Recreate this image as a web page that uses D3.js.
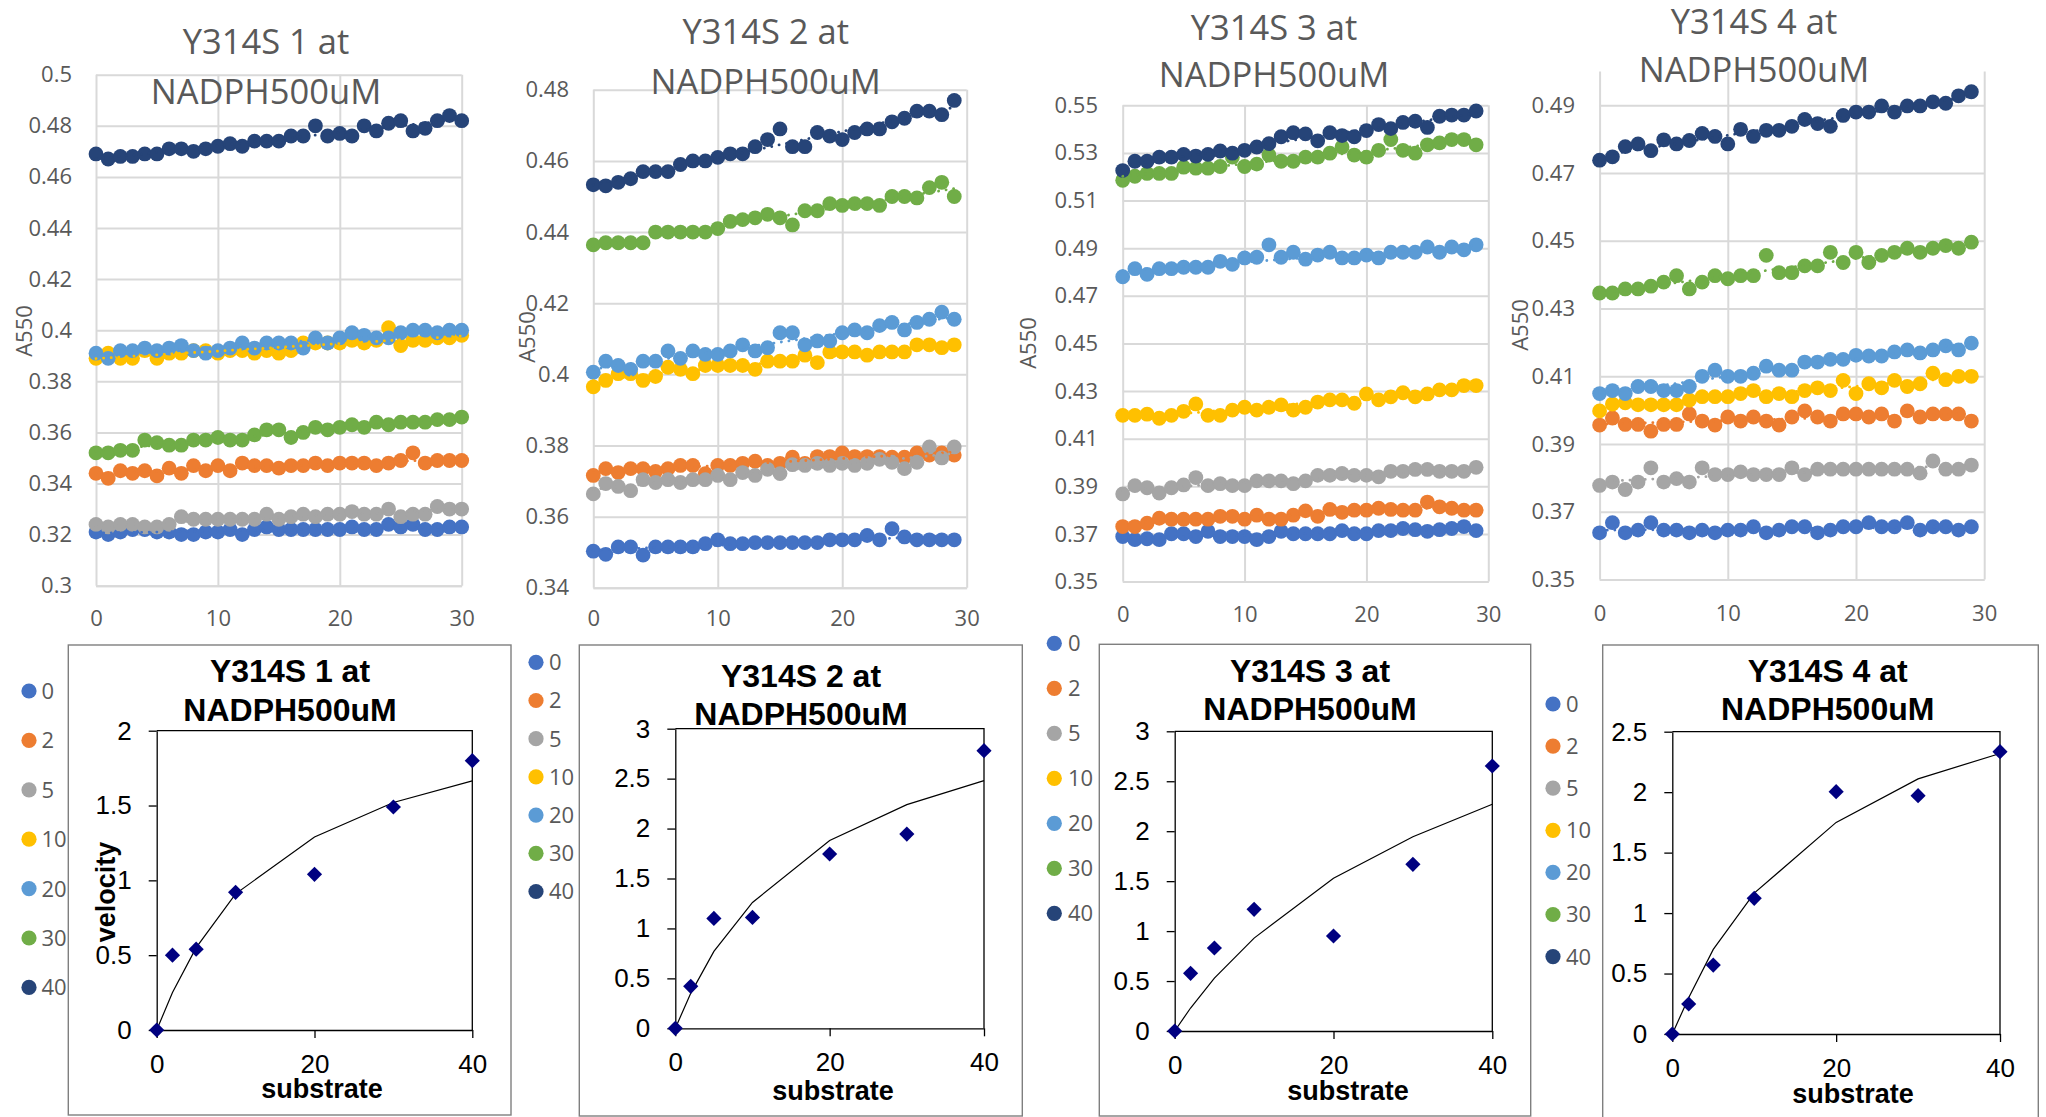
<!DOCTYPE html>
<html><head><meta charset="utf-8">
<script src="https://cdn.jsdelivr.net/npm/d3@7"></script>
<style>body{margin:0;background:#fff;} svg{display:block;}</style>
</head><body>
<svg id="c" width="2046" height="1117"></svg>
<script>
// ---------- DATA ----------
const seriesNames = ["0","2","5","10","20","30","40"];
const seriesColors = ["#4472C4","#ED7D31","#A5A5A5","#FFC000","#5B9BD5","#70AD47","#264478"];

const r1_0 = [0.321,0.320,0.321,0.322,0.322,0.321,0.321,0.320,0.320,0.321,0.321,0.322,0.320,0.322,0.323,0.322,0.322,0.322,0.322,0.322,0.322,0.323,0.322,0.322,0.324,0.323,0.324,0.322,0.322,0.323,0.323];
const r1_2 = [0.344,0.342,0.345,0.344,0.345,0.343,0.346,0.344,0.347,0.345,0.347,0.345,0.348,0.347,0.347,0.346,0.347,0.347,0.348,0.347,0.348,0.348,0.348,0.347,0.348,0.349,0.352,0.348,0.349,0.349,0.349];
const r1_5 = [0.324,0.323,0.324,0.324,0.323,0.323,0.324,0.327,0.326,0.326,0.326,0.326,0.326,0.326,0.328,0.326,0.327,0.328,0.327,0.328,0.328,0.329,0.328,0.328,0.330,0.327,0.328,0.328,0.331,0.330,0.330];
const r1_10 = [0.389,0.391,0.389,0.389,0.392,0.389,0.391,0.391,0.392,0.392,0.391,0.392,0.392,0.391,0.392,0.391,0.392,0.395,0.395,0.395,0.395,0.396,0.395,0.396,0.401,0.394,0.396,0.396,0.397,0.397,0.398];
const r1_20 = [0.391,0.389,0.392,0.392,0.393,0.392,0.393,0.394,0.392,0.391,0.392,0.393,0.395,0.393,0.395,0.395,0.395,0.393,0.397,0.395,0.397,0.399,0.398,0.397,0.397,0.399,0.400,0.400,0.399,0.400,0.400];
const r1_30 = [0.352,0.352,0.353,0.353,0.357,0.356,0.355,0.355,0.357,0.357,0.358,0.357,0.357,0.359,0.361,0.361,0.358,0.360,0.362,0.361,0.362,0.363,0.362,0.364,0.363,0.364,0.364,0.364,0.365,0.365,0.366];
const r1_40 = [0.469,0.467,0.468,0.468,0.469,0.469,0.471,0.471,0.470,0.471,0.472,0.473,0.472,0.474,0.474,0.474,0.476,0.476,0.480,0.476,0.477,0.476,0.480,0.478,0.481,0.482,0.478,0.479,0.482,0.484,0.482];

const r2_0 = [0.3503,0.3494,0.3515,0.3515,0.3492,0.3515,0.3515,0.3515,0.3515,0.3524,0.3535,0.3524,0.3524,0.3527,0.3527,0.3527,0.3527,0.3527,0.3527,0.3535,0.3535,0.3535,0.3547,0.3535,0.3566,0.3543,0.3535,0.3535,0.3535,0.3535];
const r2_2 = [0.3716,0.3735,0.3724,0.3735,0.3735,0.3727,0.3735,0.3744,0.3744,0.3721,0.3744,0.3744,0.375,0.3756,0.3744,0.375,0.3767,0.375,0.3769,0.3769,0.3779,0.3769,0.3769,0.3769,0.3767,0.3767,0.3779,0.3773,0.3779,0.3773];
const r2_5 = [0.3664,0.3693,0.3685,0.3673,0.3704,0.3696,0.3704,0.3696,0.3704,0.3704,0.3716,0.3704,0.3724,0.3716,0.3733,0.3721,0.3746,0.3744,0.375,0.3744,0.375,0.3744,0.375,0.3761,0.3753,0.3735,0.3753,0.3796,0.3765,0.3796];
const r2_10 = [0.3965,0.3983,0.4002,0.4002,0.3983,0.3994,0.402,0.4014,0.4002,0.4025,0.4025,0.4025,0.4025,0.4014,0.4037,0.4037,0.4037,0.4054,0.4033,0.4063,0.4063,0.4063,0.4054,0.4063,0.4063,0.4063,0.4083,0.4083,0.4075,0.4083];
const r2_20 = [0.4006,0.4037,0.4025,0.4014,0.4037,0.4037,0.4066,0.4045,0.4066,0.4056,0.4056,0.4066,0.4083,0.4066,0.4075,0.4117,0.4117,0.4083,0.4094,0.4094,0.4117,0.4125,0.4117,0.4137,0.4146,0.4125,0.4146,0.4155,0.4175,0.4155];
const r2_30 = [0.4364,0.437,0.437,0.437,0.437,0.440,0.440,0.440,0.440,0.440,0.441,0.443,0.4435,0.444,0.445,0.444,0.442,0.446,0.446,0.448,0.4475,0.448,0.448,0.4475,0.450,0.450,0.4496,0.4525,0.454,0.450];
const r2_40 = [0.4533,0.453,0.454,0.455,0.457,0.457,0.457,0.459,0.460,0.460,0.461,0.462,0.462,0.464,0.466,0.469,0.464,0.464,0.468,0.467,0.466,0.468,0.469,0.469,0.471,0.472,0.474,0.474,0.473,0.477];

const r3_0 = [0.3689,0.3676,0.368,0.3676,0.3701,0.3701,0.3689,0.3711,0.3689,0.3689,0.3689,0.3676,0.3689,0.3711,0.3701,0.3701,0.3701,0.3701,0.3714,0.3701,0.3701,0.3714,0.3714,0.3723,0.3718,0.3711,0.3718,0.3723,0.3731,0.3714];
const r3_2 = [0.3731,0.3731,0.3745,0.3766,0.3762,0.3762,0.3762,0.3762,0.3774,0.3774,0.3762,0.3779,0.3762,0.3762,0.3779,0.3797,0.3774,0.3803,0.3791,0.38,0.38,0.3808,0.3803,0.38,0.38,0.3834,0.3814,0.3808,0.38,0.38];
const r3_5 = [0.3868,0.3903,0.3894,0.3872,0.3894,0.3906,0.3937,0.3903,0.3911,0.3903,0.3903,0.3923,0.3923,0.3923,0.3911,0.3923,0.3946,0.3946,0.3954,0.3946,0.3946,0.394,0.3963,0.3963,0.3971,0.3971,0.3963,0.3963,0.3963,0.398];
const r3_10 = [0.4198,0.4198,0.4203,0.4186,0.4198,0.4215,0.4246,0.4198,0.4198,0.422,0.4232,0.422,0.4232,0.4242,0.422,0.4232,0.4254,0.4263,0.4263,0.4249,0.4288,0.4263,0.4276,0.4293,0.4276,0.4288,0.4305,0.4305,0.4323,0.4323];
const r3_20 = [0.478,0.4814,0.479,0.4814,0.4814,0.482,0.482,0.482,0.4845,0.4832,0.4859,0.4862,0.4914,0.4862,0.4883,0.4854,0.4871,0.4883,0.4859,0.4859,0.4871,0.4859,0.4883,0.4883,0.4883,0.4905,0.4883,0.4905,0.4893,0.4914];
const r3_30 = [0.5185,0.5202,0.5214,0.5214,0.5214,0.524,0.5236,0.5236,0.5243,0.5282,0.5243,0.5253,0.5291,0.5265,0.5265,0.5282,0.5282,0.5299,0.5325,0.5291,0.5282,0.5311,0.5356,0.5311,0.5299,0.5334,0.5342,0.5356,0.5356,0.5334];
const r3_40 = [0.5226,0.5265,0.5265,0.5282,0.5282,0.5294,0.5287,0.5294,0.5308,0.5299,0.5311,0.5325,0.5339,0.5368,0.5385,0.538,0.5351,0.5385,0.5373,0.5368,0.5394,0.5419,0.5402,0.5428,0.5433,0.5407,0.5454,0.5459,0.5459,0.5476];

const r4_0 = [0.3638,0.3668,0.3638,0.3646,0.3668,0.3646,0.3646,0.3638,0.3646,0.3638,0.3646,0.3646,0.3656,0.3638,0.3646,0.3656,0.3656,0.3638,0.3646,0.3656,0.3656,0.3668,0.3656,0.3656,0.3668,0.3646,0.3656,0.3656,0.3646,0.3656];
const r4_2 = [0.3956,0.3977,0.3958,0.3958,0.3938,0.3958,0.3958,0.3989,0.3968,0.3956,0.398,0.3968,0.398,0.3968,0.3956,0.398,0.3998,0.398,0.3968,0.3989,0.3989,0.398,0.3989,0.3968,0.3998,0.398,0.3989,0.3989,0.3989,0.3968];
const r4_5 = [0.3778,0.3788,0.3766,0.3788,0.383,0.3788,0.3798,0.3788,0.383,0.381,0.381,0.3818,0.381,0.381,0.381,0.383,0.381,0.3826,0.3826,0.3826,0.3826,0.3826,0.3826,0.3826,0.3826,0.3814,0.385,0.3826,0.3826,0.3838];
const r4_10 = [0.3998,0.4018,0.4022,0.4016,0.4016,0.4016,0.4016,0.403,0.404,0.404,0.404,0.4049,0.4058,0.404,0.4049,0.404,0.4058,0.4066,0.4058,0.4088,0.4049,0.4078,0.4066,0.4088,0.407,0.4078,0.4109,0.409,0.41,0.41];
const r4_20 = [0.4049,0.4058,0.4049,0.407,0.407,0.4058,0.4058,0.407,0.41,0.4118,0.41,0.41,0.4109,0.413,0.4118,0.4118,0.4142,0.4142,0.415,0.415,0.4162,0.416,0.416,0.4172,0.4178,0.4169,0.4178,0.419,0.4178,0.4198];
const r4_30 = [0.4346,0.4346,0.4358,0.4358,0.4366,0.4378,0.4397,0.4358,0.4378,0.4397,0.4388,0.4397,0.4397,0.4457,0.4406,0.4406,0.4426,0.4426,0.4466,0.4436,0.4466,0.4436,0.4457,0.4466,0.4478,0.4466,0.4478,0.4486,0.4478,0.4496];
const r4_40 = [0.4738,0.4748,0.4778,0.4786,0.4766,0.4798,0.4786,0.4796,0.4817,0.4808,0.4786,0.4829,0.4808,0.4826,0.4826,0.4838,0.4858,0.4846,0.4838,0.487,0.488,0.488,0.4898,0.488,0.4898,0.4898,0.491,0.4906,0.4928,0.494];

const topTitles = [["Y314S 1 at","NADPH500uM"],["Y314S 2 at","NADPH500uM"],["Y314S 3 at","NADPH500uM"],["Y314S 4 at","NADPH500uM"]];
const timeTicks = [0,10,20,30];
const yTicks1 = [0.3,0.32,0.34,0.36,0.38,0.4,0.42,0.44,0.46,0.48,0.5];
const yTicks2 = [0.34,0.36,0.38,0.4,0.42,0.44,0.46,0.48];
const yTicks3 = [0.35,0.37,0.39,0.41,0.43,0.45,0.47,0.49,0.51,0.53,0.55];
const yTicks4 = [0.35,0.37,0.39,0.41,0.43,0.45,0.47,0.49];

const substrate = [0,2,5,10,20,30,40];
const vel1 = [0,0.50,0.54,0.92,1.04,1.49,1.80];
const fit1 = [0,0.25,0.55,0.91,1.29,1.52,1.665];
const vel2 = [0,0.42,1.10,1.11,1.745,1.945,2.78];
const fit2 = [0,0.35,0.77,1.26,1.88,2.24,2.48];
const vel3 = [0,0.577,0.831,1.218,0.951,1.668,2.653];
const fit3 = [0,0.23,0.53,0.93,1.53,1.945,2.27];
const vel4 = [0,0.248,0.57,1.122,2.004,1.971,2.335];
const fit4 = [0,0.30,0.70,1.165,1.75,2.11,2.32];
const subTicks = [0,20,40];
const vTicks1 = [0,0.5,1,1.5,2];
const vTicks2 = [0,0.5,1,1.5,2,2.5,3];
const vTicks3 = [0,0.5,1,1.5,2,2.5,3];
const vTicks4 = [0,0.5,1,1.5,2,2.5];
const bottomTitles = [["Y314S 1 at","NADPH500uM"],["Y314S 2 at","NADPH500uM"],["Y314S 3 at","NADPH500uM"],["Y314S 4 at","NADPH500uM"]];

// ---------- LAYOUT ----------
const svg = d3.select("#c");
const FONT_TOP = "'Open Sans', sans-serif";
const FONT_BOT = "'Liberation Sans', Arial, sans-serif";
const GREY_TXT = "#595959";

const topCharts = [
  {series:[r1_0,r1_2,r1_5,r1_10,r1_20,r1_30,r1_40], ticks:yTicks1, dom:[0.3,0.5], x0:96, x1:461.7, yb:585.7, yt:74.7, tcx:266, tb:[54,103.5], ylabR:72, xlabB:626, a550:[24,331]},
  {series:[r2_0,r2_2,r2_5,r2_10,r2_20,r2_30,r2_40], ticks:yTicks2, dom:[0.34,0.48], x0:593.3, x1:966.7, yb:587.8, yt:89.8, tcx:765.7, tb:[44,94], ylabR:569, xlabB:626, a550:[527,337]},
  {series:[r3_0,r3_2,r3_5,r3_10,r3_20,r3_30,r3_40], ticks:yTicks3, dom:[0.35,0.55], x0:1122.7, x1:1488.3, yb:581.6, yt:105.3, tcx:1274, tb:[40,87], ylabR:1098, xlabB:622, a550:[1028,343]},
  {series:[r4_0,r4_2,r4_5,r4_10,r4_20,r4_30,r4_40], ticks:yTicks4, dom:[0.35,0.5], x0:1599.6, x1:1984.2, yb:579.6, yt:71.4, tcx:1754, tb:[34,82], ylabR:1575, xlabB:621, a550:[1520,325]}
];

function drawTop(c, idx){
  const g = svg.append("g");
  const x = d3.scaleLinear().domain([0,30]).range([c.x0,c.x1]);
  const y = d3.scaleLinear().domain(c.dom).range([c.yb,c.yt]);
  const w = c.x1 - c.x0;
  const ya = g.append("g").attr("transform",`translate(${c.x0},0)`)
    .call(d3.axisLeft(y).tickValues(c.ticks).tickSize(-w).tickPadding(c.x0-c.ylabR).tickFormat(d=>String(+d.toFixed(2))));
  ya.select(".domain").remove();
  ya.selectAll("line").attr("stroke","#d9d9d9").attr("stroke-width",2);
  ya.selectAll("text").attr("fill",GREY_TXT).style("font-family",FONT_TOP).style("font-size","22px");
  const xa = g.append("g").attr("transform",`translate(0,${c.yb})`)
    .call(d3.axisBottom(x).tickValues(timeTicks).tickSize(-(c.yb - c.yt)).tickSizeOuter(0));
  xa.select(".domain").attr("stroke","#d9d9d9").attr("stroke-width",2);
  xa.selectAll("line").attr("stroke","#d9d9d9").attr("stroke-width",2);
  xa.selectAll("text").attr("fill",GREY_TXT).style("font-family",FONT_TOP).style("font-size","22px")
    .attr("y", c.xlabB - c.yb).attr("dy",null);
  c.series.forEach((s,si)=>{
    g.append("g").selectAll("circle").data(s).join("circle")
      .attr("cx",(d,i)=>x(i)).attr("cy",d=>y(d))
      .attr("r",7.4).attr("fill",seriesColors[si]);
  });
  // dotted linear trendlines
  c.series.forEach((s,si)=>{
    const n=s.length, xs=s.map((d,i)=>i);
    const mx=d3.mean(xs), my=d3.mean(s);
    const b=d3.sum(xs.map((xi,i)=>(xi-mx)*(s[i]-my)))/d3.sum(xs.map(xi=>(xi-mx)**2));
    const a=my-b*mx;
    g.append("line").attr("x1",x(0)).attr("x2",x(n-1)).attr("y1",y(a)).attr("y2",y(a+b*(n-1)))
      .attr("stroke",seriesColors[si]).attr("stroke-width",2.8).attr("stroke-linecap","round")
      .attr("stroke-dasharray","0.1 7.5");
  });
  const t = g.append("text").attr("text-anchor","middle").attr("fill",GREY_TXT)
    .style("font-family",FONT_TOP).style("font-size","34.5px");
  topTitles[idx].forEach((line,li)=>t.append("tspan").attr("x",c.tcx).attr("y",c.tb[li]).text(line));
  g.append("text").attr("transform",`translate(${c.a550[0]},${c.a550[1]}) rotate(-90)`)
    .attr("text-anchor","middle").attr("dy","0.36em").attr("fill",GREY_TXT)
    .style("font-family",FONT_TOP).style("font-size","22px").text("A550");
}
topCharts.forEach(drawTop);

// legends (belonging to the top charts)
const legends = [
  {cx:29, cy0:691, step:49.4, tx:41.5},
  {cx:536, cy0:662.3, step:38.2, tx:549},
  {cx:1054.3, cy0:643.3, step:45, tx:1068},
  {cx:1553, cy0:704, step:42.1, tx:1566}
];
legends.forEach(L=>{
  const g = svg.append("g");
  const items = g.selectAll("g").data(seriesNames).join("g")
    .attr("transform",(d,i)=>`translate(0,${L.cy0+i*L.step})`);
  items.append("circle").attr("cx",L.cx).attr("cy",0).attr("r",7.6).attr("fill",(d,i)=>seriesColors[i]);
  items.append("text").attr("x",L.tx).attr("y",0).attr("dy","0.36em").attr("fill",GREY_TXT)
    .style("font-family",FONT_TOP).style("font-size","22px").text(d=>d);
});

// ---------- BOTTOM (Michaelis-Menten) CHARTS ----------
const bottomCharts = [
  {vel:vel1, fit:fit1, ticks:vTicks1, max:2,   box:[68.3,645,511,1115], x0:156.7, x1:472.3, yb:1030, yt:730.7, tcx:290, tb:[682,720.7], scx:322, sb:1098, velocity:[106,892]},
  {vel:vel2, fit:fit2, ticks:vTicks2, max:3,   box:[579.3,645,1022.3,1116], x0:675.3, x1:984, yb:1028.3, yt:728.7, tcx:801, tb:[686.7,725], scx:833, sb:1100},
  {vel:vel3, fit:fit3, ticks:vTicks3, max:3,   box:[1099.3,644.3,1530.7,1116], x0:1174.7, x1:1492.3, yb:1031, yt:731.3, tcx:1310, tb:[681.7,720], scx:1348, sb:1100},
  {vel:vel4, fit:fit4, ticks:vTicks4, max:2.5, box:[1602.7,645,2038.3,1125], x0:1672.3, x1:2000, yb:1034, yt:731.7, tcx:1827.7, tb:[681.7,720], scx:1853, sb:1103}
];

function drawBottom(c, idx){
  const g = svg.append("g");
  g.append("rect").attr("x",c.box[0]).attr("y",c.box[1]).attr("width",c.box[2]-c.box[0]).attr("height",c.box[3]-c.box[1])
    .attr("fill","#fff").attr("stroke","#7f7f7f").attr("stroke-width",1.4);
  const x = d3.scaleLinear().domain([0,40]).range([c.x0,c.x1]);
  const y = d3.scaleLinear().domain([0,c.max]).range([c.yb,c.yt]);
  g.append("path").attr("d",`M${c.x0},${c.yt}H${c.x1}V${c.yb}`).attr("fill","none").attr("stroke","#000").attr("stroke-width",1.3);
  const ya = g.append("g").attr("transform",`translate(${c.x0},0)`)
    .call(d3.axisLeft(y).tickValues(c.ticks).tickSize(8).tickSizeOuter(0).tickPadding(17).tickFormat(d=>String(d)));
  ya.selectAll("line,path").attr("stroke","#000").attr("stroke-width",1.3);
  ya.selectAll("text").attr("fill","#000").style("font-family",FONT_BOT).style("font-size","26px");
  const xa = g.append("g").attr("transform",`translate(0,${c.yb})`)
    .call(d3.axisBottom(x).tickValues(subTicks).tickSize(8).tickSizeOuter(0));
  xa.selectAll("line,path").attr("stroke","#000").attr("stroke-width",1.3);
  xa.selectAll("text").attr("fill","#000").style("font-family",FONT_BOT).style("font-size","26px")
    .attr("y",43).attr("dy",null);
  const line = d3.line().x((d,i)=>x(substrate[i])).y(d=>y(d));
  g.append("path").datum(c.fit).attr("d",line).attr("fill","none").attr("stroke","#000").attr("stroke-width",1.2);
  g.selectAll("path.dm").data(c.vel).join("path").attr("class","dm")
    .attr("d",d3.symbol(d3.symbolSquare,115)())
    .attr("transform",(d,i)=>`translate(${x(substrate[i])},${y(d)}) rotate(45)`)
    .attr("fill","#000080");
  const t = g.append("text").attr("text-anchor","middle").attr("fill","#000")
    .style("font-family",FONT_BOT).style("font-size","32px").style("font-weight","bold");
  bottomTitles[idx].forEach((line,li)=>t.append("tspan").attr("x",c.tcx).attr("y",c.tb[li]).text(line));
  g.append("text").attr("x",c.scx).attr("y",c.sb).attr("text-anchor","middle").attr("fill","#000")
    .style("font-family",FONT_BOT).style("font-size","27px").style("font-weight","bold").text("substrate");
  if(c.velocity){
    g.append("text").attr("transform",`translate(${c.velocity[0]},${c.velocity[1]}) rotate(-90)`)
      .attr("text-anchor","middle").attr("dy","0.35em").attr("fill","#000")
      .style("font-family",FONT_BOT).style("font-size","27px").style("font-weight","bold").text("velocity");
  }
}
bottomCharts.forEach(drawBottom);
</script>
</body></html>
